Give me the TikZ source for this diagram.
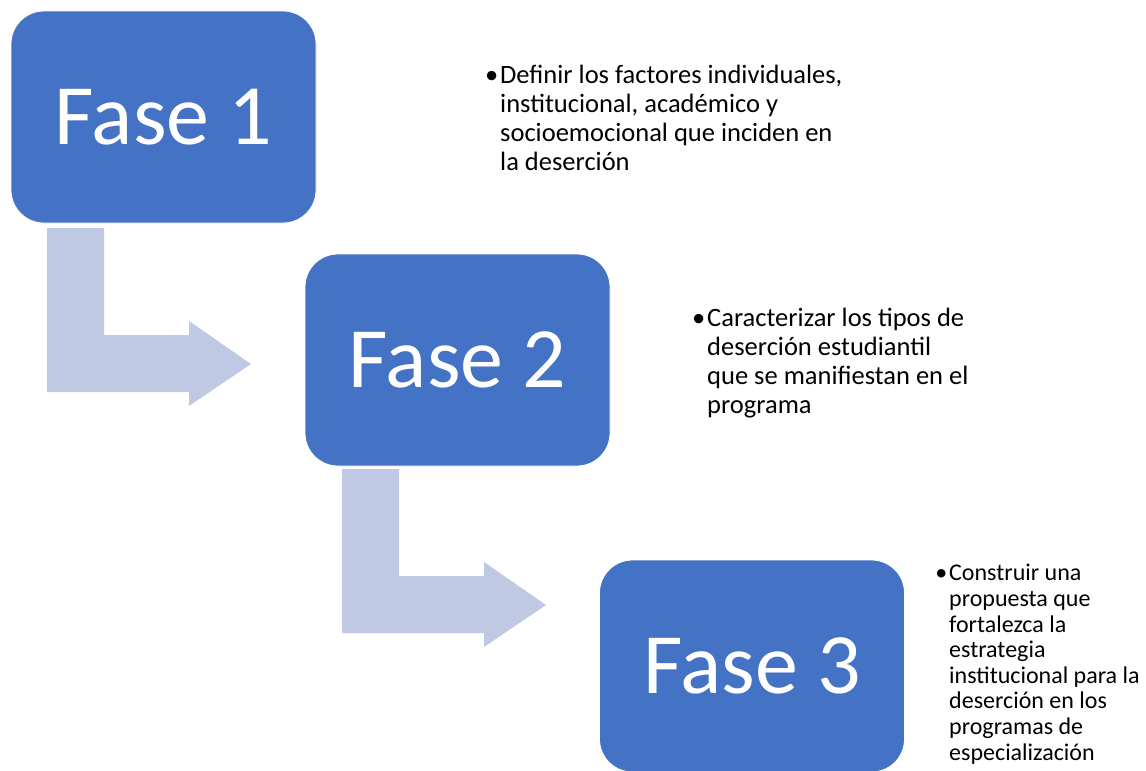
\documentclass[tikz,border=0pt]{standalone}
\usepackage{fontspec}
\setmainfont{Carlito}
\definecolor{boxblue}{RGB}{68,114,196}
\definecolor{arrowblue}{RGB}{191,201,228}
\tikzset{
  fase/.style={draw=white, line width=0.8pt, fill=boxblue, rounded corners=33pt, text=white,
    font=\fontsize{86}{90}\selectfont, minimum width=305pt, minimum height=212pt, inner sep=0pt},
  bigarrow/.style={fill=arrowblue, draw=none},
  desc/.style={anchor=base west, inner sep=0pt, align=left, text=black},
}
\begin{document}
\begin{tikzpicture}[x=1pt,y=-1pt]
\clip (0,0) rectangle (1146,771);
\fill[white] (0,0) rectangle (1146,771);
% arrows
\fill[bigarrow] (47,228) -- (104,228) -- (104,335) -- (189,335) -- (189,321) -- (251,364) -- (189,406) -- (189,392) -- (47,392) -- cycle;
\begin{scope}[shift={(295,241)}]
\fill[bigarrow] (47,228) -- (104,228) -- (104,335) -- (189,335) -- (189,321) -- (251,364) -- (189,406) -- (189,392) -- (47,392) -- cycle;
\end{scope}
% boxes
\node[fase] (f1) at (163.5,117) {Fase 1};
\node[fase] (f2) at (457.5,360) {Fase 2};
\node[fase] (f3) at (752,666) {Fase 3};
% descriptions (base = last line)
\node[desc, font=\fontsize{26.5}{29}\selectfont] (t1) at (500,170)
  {\llap{•\hspace{2pt}}Definir los factores individuales,\\institucional, académico y\\socioemocional que inciden en\\la deserción};
\node[desc, font=\fontsize{26.5}{29}\selectfont] (t2) at (707,413)
  {\llap{•\hspace{2pt}}Caracterizar los tipos de\\deserción estudiantil\\que se manifiestan en el\\programa};
\node[desc, font=\fontsize{24}{25.6}\selectfont] (t3) at (949,760)
  {\llap{•\hspace{2pt}}Construir una\\propuesta que\\fortalezca la\\estrategia\\institucional para la\\deserción en los\\programas de\\especialización};
\end{tikzpicture}
\end{document}
